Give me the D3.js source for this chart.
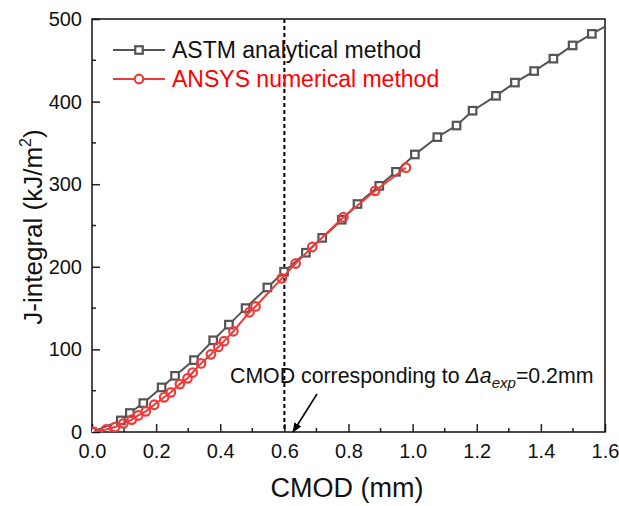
<!DOCTYPE html>
<html>
<head>
<meta charset="utf-8">
<script src="https://cdn.jsdelivr.net/npm/d3@7"></script>
<style>
  body { margin: 0; background: #fff; }
  text { font-family: "Liberation Sans", Arial, sans-serif; }
</style>
</head>
<body>
<script>
// ASTM analytical method
var astmX = [0, 0.09, 0.118, 0.16, 0.217, 0.259, 0.318, 0.378, 0.427, 0.479, 0.547, 0.599, 0.667, 0.718, 0.779, 0.828, 0.896, 0.948, 1.007, 1.077, 1.137, 1.187, 1.26, 1.319, 1.379, 1.439, 1.499, 1.559, 1.62];
var astmY = [0, 14, 23, 35, 54, 68, 87, 111, 130, 150, 175, 194, 217, 235, 257, 276, 298, 315, 336, 357, 371, 389, 407, 423, 437, 452, 468, 482, 495];
// ANSYS numerical method
var ansysX = [0.005, 0.044, 0.072, 0.098, 0.124, 0.144, 0.168, 0.194, 0.225, 0.246, 0.274, 0.298, 0.314, 0.34, 0.371, 0.394, 0.412, 0.441, 0.491, 0.51, 0.592, 0.635, 0.687, 0.784, 0.883, 0.979];
var ansysY = [0, 3, 6, 10.5, 15, 20, 25, 33, 42, 48, 58, 65, 72, 83, 94, 103, 110, 122, 145, 152, 186, 204, 224, 260, 292, 320];
var seriesNames = ['ASTM analytical method', 'ANSYS numerical method'];
var xTicks = [0, 0.2, 0.4, 0.6, 0.8, 1.0, 1.2, 1.4, 1.6];
var yTicks = [0, 100, 200, 300, 400, 500];
var markCmod = 0.6;

(function() {
  var W = 619, H = 506;
  var pL = 92, pR = 605, pT = 19, pB = 432;
  var gray = '#545454', red = '#f03a3a';

  var x = d3.scaleLinear().domain([0, 1.6]).range([pL, pR]);
  var y = d3.scaleLinear().domain([0, 500]).range([pB, pT]);

  var svg = d3.select('body').append('svg').attr('width', W).attr('height', H);
  var defs = svg.append('defs');
  defs.append('clipPath').attr('id', 'clip')
    .append('rect').attr('x', pL).attr('y', pT).attr('width', pR - pL).attr('height', pB - pT);
  defs.append('marker').attr('id', 'arrow')
    .attr('viewBox', '0 0 10 10').attr('refX', 9).attr('refY', 5)
    .attr('markerWidth', 10).attr('markerHeight', 10).attr('markerUnits', 'userSpaceOnUse')
    .attr('orient', 'auto')
    .append('path').attr('d', 'M0,1L10,5L0,9Z').attr('fill', '#000');

  var xMinor = d3.range(0.1, 1.6, 0.2);
  var yMinor = d3.range(50, 500, 100);

  // x axis, ticks inward
  var gx = svg.append('g').attr('transform', 'translate(0,' + pB + ')');
  gx.call(d3.axisBottom(x).tickValues(xTicks).tickFormat(d3.format('.1f')).tickSize(-8).tickPadding(12));
  gx.select('.domain').remove();
  gx.selectAll('line').attr('stroke', '#222').attr('stroke-width', 1.5);
  gx.selectAll('text').attr('font-size', 20).attr('fill', '#111').attr('font-family', '"Liberation Sans", Arial, sans-serif');
  gx.append('g').selectAll('line').data(xMinor).enter().append('line')
    .attr('x1', x).attr('x2', x).attr('y1', 0).attr('y2', -4)
    .attr('stroke', '#222').attr('stroke-width', 1.5);

  // y axis, ticks inward
  var gy = svg.append('g').attr('transform', 'translate(' + pL + ',0)');
  gy.call(d3.axisLeft(y).tickValues(yTicks).tickFormat(d3.format('d')).tickSize(-8).tickPadding(10));
  gy.select('.domain').remove();
  gy.selectAll('line').attr('stroke', '#222').attr('stroke-width', 1.5);
  gy.selectAll('text').attr('font-size', 20).attr('fill', '#111').attr('font-family', '"Liberation Sans", Arial, sans-serif');
  gy.append('g').selectAll('line').data(yMinor).enter().append('line')
    .attr('y1', y).attr('y2', y).attr('x1', 0).attr('x2', 4)
    .attr('stroke', '#222').attr('stroke-width', 1.5);

  // frame
  svg.append('rect').attr('x', pL).attr('y', pT).attr('width', pR - pL).attr('height', pB - pT)
    .attr('fill', 'none').attr('stroke', '#111').attr('stroke-width', 1.5);

  // vertical dashed marker
  svg.append('line').attr('x1', x(markCmod)).attr('x2', x(markCmod)).attr('y1', pT).attr('y2', pB)
    .attr('stroke', '#000').attr('stroke-width', 2).attr('stroke-dasharray', '4,3');

  var plot = svg.append('g').attr('clip-path', 'url(#clip)');
  var line = d3.line().x(function(d) { return x(d[0]); }).y(function(d) { return y(d[1]); });
  var astm = d3.zip(astmX, astmY);
  var ansys = d3.zip(ansysX, ansysY);

  plot.append('path').datum(astm).attr('d', line).attr('fill', 'none').attr('stroke', gray).attr('stroke-width', 2);
  plot.selectAll('rect.sq').data(astm).enter().append('rect')
    .attr('class', 'sq')
    .attr('x', function(d) { return x(d[0]) - 3.75; }).attr('y', function(d) { return y(d[1]) - 3.75; })
    .attr('width', 7.5).attr('height', 7.5)
    .attr('fill', '#fff').attr('stroke', gray).attr('stroke-width', 2.2);
  plot.append('path').datum(ansys).attr('d', line).attr('fill', 'none').attr('stroke', red).attr('stroke-width', 2);
  plot.selectAll('circle.ci').data(ansys).enter().append('circle')
    .attr('class', 'ci')
    .attr('cx', function(d) { return x(d[0]); }).attr('cy', function(d) { return y(d[1]); })
    .attr('r', 4.3)
    .attr('fill', 'none').attr('stroke', red).attr('stroke-width', 2.2);

  // legend
  [0, 1].forEach(function(i) {
    var ly = 50 + i * 29;
    var c = i === 0 ? gray : red;
    var row = svg.append('g');
    row.append('line').attr('x1', 113).attr('x2', 165).attr('y1', ly).attr('y2', ly)
      .attr('stroke', c).attr('stroke-width', 2);
    if (i === 0) {
      row.append('rect').attr('x', 135.25).attr('y', ly - 3.75).attr('width', 7.5).attr('height', 7.5)
        .attr('fill', '#fff').attr('stroke', gray).attr('stroke-width', 2.2);
    } else {
      row.append('circle').attr('cx', 139).attr('cy', ly).attr('r', 4.3)
        .attr('fill', '#fff').attr('stroke', red).attr('stroke-width', 2.2);
    }
    row.append('text').attr('x', 172).attr('y', ly + 8).attr('font-size', 23)
      .attr('fill', i === 0 ? '#111' : '#ff0000').text(seriesNames[i]);
  });

  // annotation
  var ann = svg.append('text').attr('x', 230).attr('y', 383).attr('font-size', 21.3).attr('fill', '#111');
  ann.append('tspan').text('CMOD corresponding to ');
  ann.append('tspan').attr('font-style', 'italic').text('\u0394a');
  ann.append('tspan').attr('font-style', 'italic').attr('font-size', 15).attr('dy', 5).text('exp');
  ann.append('tspan').attr('dy', -5).text('=0.2mm');
  svg.append('line').attr('x1', 317).attr('y1', 394).attr('x2', 293).attr('y2', 432)
    .attr('stroke', '#000').attr('stroke-width', 1.6).attr('marker-end', 'url(#arrow)');

  // axis titles
  svg.append('text').attr('x', 347).attr('y', 497).attr('text-anchor', 'middle')
    .attr('font-size', 27).attr('fill', '#111').text('CMOD (mm)');
  var yt = svg.append('text').attr('transform', 'translate(42,' + 227 + ') rotate(-90)')
    .attr('text-anchor', 'middle').attr('font-size', 26).attr('fill', '#111');
  yt.append('tspan').text('J-integral (kJ/m');
  yt.append('tspan').attr('font-size', 16).attr('dy', -11).text('2');
  yt.append('tspan').attr('dy', 11).text(')');
})();
</script>
</body>
</html>
